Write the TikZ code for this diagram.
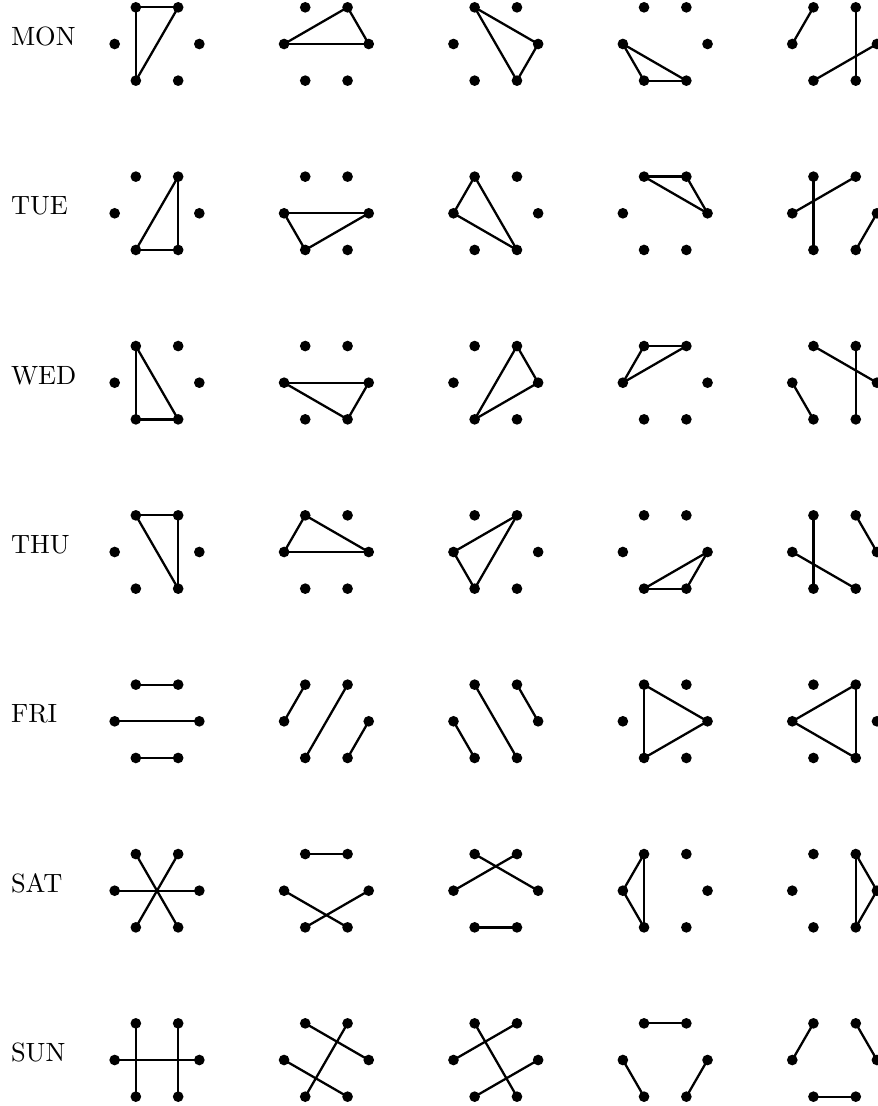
\documentclass[tikz,border=0pt]{standalone}
\usetikzlibrary{calc}
\tikzset{
  hexdot/.style={circle,fill=black,draw=none,inner sep=0pt,minimum size=4.2pt},
  hexedge/.style={line width=0.9pt},
  daylabel/.style={anchor=base west,inner sep=0pt,font=\fontsize{10.4}{12}\selectfont}
}
\newcommand\hexgraph[4]{%
  \foreach \k in {0,...,5} {%
    \node[hexdot] (#1-\k) at ({#2+42.33*cos(\k*60)},{#3-42.33*sin(\k*60)}) {};
  }%
  \foreach \a/\b in {#4} {%
    \draw[hexedge] (#1-\a.center) -- (#1-\b.center);
  }%
}
\begin{document}
\begin{tikzpicture}[x=0.3937pt,y=-0.3937pt]
\clip (0,0) rectangle (878,1106);
\useasboundingbox (0,0) rectangle (878,1106);
% labels
\node[daylabel] (lmon) at (10.5,45.5) {MON};
\node[daylabel] (ltue) at (10.5,214.8) {TUE};
\node[daylabel] (lwed) at (10.5,384.2) {WED};
\node[daylabel] (lthu) at (10.5,553.5) {THU};
\node[daylabel] (lfri) at (10.5,722.8) {FRI};
\node[daylabel] (lsat) at (10.5,892.2) {SAT};
\node[daylabel] (lsun) at (10.5,1061.5) {SUN};
% MON
\hexgraph{mona}{157}{44}{2/1,2/4,4/1}
\hexgraph{monb}{326.4}{44}{3/1,3/0,1/0}
\hexgraph{monc}{495.8}{44}{2/0,2/5,0/5}
\hexgraph{mond}{665.2}{44}{3/4,4/5,3/5}
\hexgraph{mone}{834.6}{44}{3/2,1/5,4/0}
% TUE
\hexgraph{tuea}{157}{213.3}{1/4,1/5,4/5}
\hexgraph{tueb}{326.4}{213.3}{3/0,3/4,4/0}
\hexgraph{tuec}{495.8}{213.3}{2/3,2/5,3/5}
\hexgraph{tued}{665.2}{213.3}{2/1,1/0,2/0}
\hexgraph{tuee}{834.6}{213.3}{2/4,3/1,5/0}
% WED
\hexgraph{weda}{157}{382.7}{2/4,2/5,4/5}
\hexgraph{wedb}{326.4}{382.7}{3/0,3/5,5/0}
\hexgraph{wedc}{495.8}{382.7}{1/0,1/4,4/0}
\hexgraph{wedd}{665.2}{382.7}{2/1,2/3,3/1}
\hexgraph{wede}{834.6}{382.7}{2/0,1/5,3/4}
% THU
\hexgraph{thua}{157}{552}{2/1,1/5,2/5}
\hexgraph{thub}{326.4}{552}{2/3,3/0,2/0}
\hexgraph{thuc}{495.8}{552}{1/3,3/4,1/4}
\hexgraph{thud}{665.2}{552}{4/5,5/0,4/0}
\hexgraph{thue}{834.6}{552}{2/4,3/5,1/0}
% FRI
\hexgraph{fria}{157}{721.3}{2/1,3/0,4/5}
\hexgraph{frib}{326.4}{721.3}{2/3,1/4,0/5}
\hexgraph{fric}{495.8}{721.3}{2/5,3/4,1/0}
\hexgraph{frid}{665.2}{721.3}{2/4,2/0,4/0}
\hexgraph{frie}{834.6}{721.3}{3/1,1/5,3/5}
% SAT
\hexgraph{sata}{157}{890.7}{3/0,2/5,1/4}
\hexgraph{satb}{326.4}{890.7}{2/1,3/5,4/0}
\hexgraph{satc}{495.8}{890.7}{3/1,2/0,4/5}
\hexgraph{satd}{665.2}{890.7}{2/3,3/4,2/4}
\hexgraph{sate}{834.6}{890.7}{1/0,0/5,1/5}
% SUN
\hexgraph{suna}{157}{1060}{2/4,1/5,3/0}
\hexgraph{sunb}{326.4}{1060}{2/0,1/4,3/5}
\hexgraph{sunc}{495.8}{1060}{2/5,3/1,4/0}
\hexgraph{sund}{665.2}{1060}{2/1,3/4,5/0}
\hexgraph{sune}{834.6}{1060}{2/3,1/0,4/5}
\end{tikzpicture}
\end{document}
